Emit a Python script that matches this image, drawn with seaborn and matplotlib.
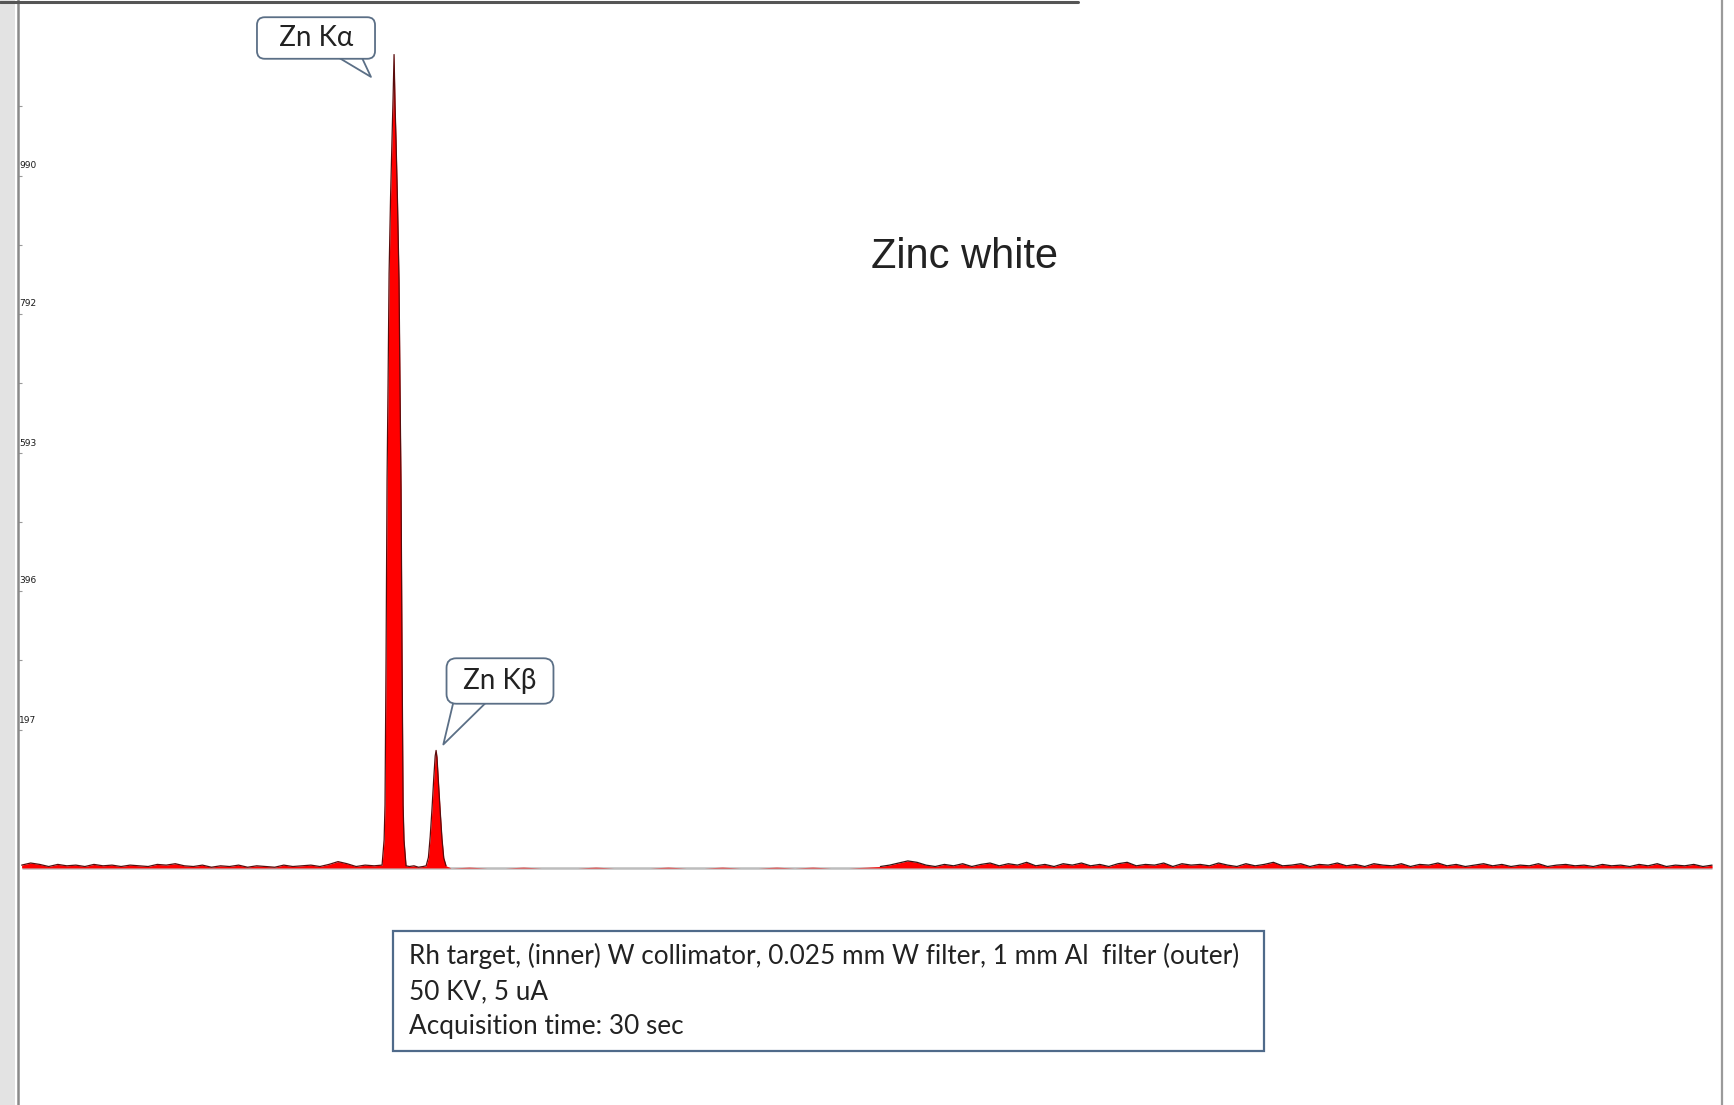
import numpy as np
import matplotlib
matplotlib.use("Agg")
import matplotlib.pyplot as plt
from matplotlib.lines import Line2D
from matplotlib.patches import Rectangle
import matplotlib.transforms as mtransforms
import seaborn as sns

# ---------------- data ----------------
# low-energy background (keV grid 0.4 .. 8.2)
bg_left_start, bg_left_stop = 0.4, 8.2
bg_left_counts = [4, 7, 5, 2, 5, 3, 4, 2, 5, 3, 4, 2, 4, 3, 2, 5, 4, 6, 3, 2,
                  4, 1, 3, 2, 4, 1, 3, 2, 1, 4, 2, 3, 4, 2, 5, 9, 6, 2, 4, 3]

# Zn K-alpha peak
ka_energy = [8.375, 8.42, 8.44, 8.463, 8.485, 8.507, 8.53, 8.563, 8.596, 8.618, 8.64,
             8.662, 8.684, 8.717, 8.75, 8.773, 8.795, 8.817, 8.84, 8.86, 8.905]
ka_counts = [4, 40, 90, 300, 554, 690, 850, 960, 1045, 1100, 1163,
             1090, 1040, 950, 840, 680, 540, 300, 90, 40, 3]

# valley between the peaks
valley_energy = [8.98, 9.08, 9.18, 9.28]
valley_counts = [2, 3, 1, 2]

# Zn K-beta peak
kb_energy = [9.35, 9.40, 9.44, 9.48, 9.52, 9.55, 9.57, 9.59, 9.62, 9.66, 9.70, 9.74, 9.79]
kb_counts = [3, 15, 45, 85, 130, 160, 168, 158, 125, 82, 42, 14, 3]

# quiet middle region (keV grid 9.9 .. 19.1)
bg_mid_start, bg_mid_stop = 9.9, 19.1
bg_mid_counts = [0, 1, 0, 0, 1, 0, 0, 0, 1, 0, 0, 0, 1, 0, 0, 1, 0, 0, 1, 0, 1, 0, 0, 1]

# high-energy background (keV grid 19.4 .. 37.8)
bg_right_start, bg_right_stop = 19.4, 37.8
bg_right_counts = [2, 4, 7, 10, 8, 4, 2, 5, 3, 6, 2, 5, 7, 3, 6, 4, 8, 3, 5, 2,
                   6, 4, 7, 3, 5, 2, 6, 8, 3, 5, 4, 7, 2, 6, 4, 5, 3, 7, 4, 2,
                   6, 3, 5, 8, 3, 4, 6, 2, 5, 4, 7, 3, 5, 2, 6, 4, 3, 6, 2, 5,
                   4, 7, 3, 5, 2, 4, 6, 3, 5, 2, 4, 3, 6, 2, 4, 5, 3, 4, 2, 5,
                   3, 4, 2, 5, 3, 6, 2, 4, 3, 5, 2, 4]

ytick_values = [197, 396, 593, 792, 990]
ytick_labels = ["197", "396", "593", "792", "990"]
yminor_values = [297, 495, 693, 891, 1089]

title_text = "Zinc white"
callout_ka = "Zn Kα"
callout_kb = "Zn Kβ"
info_lines = ["Rh target, (inner) W collimator, 0.025 mm W filter, 1 mm Al  filter (outer)",
              "50 KV, 5 uA",
              "Acquisition time: 30 sec"]

# ---------------- assemble spectrum ----------------
e_left = np.linspace(bg_left_start, bg_left_stop, len(bg_left_counts))
e_mid = np.linspace(bg_mid_start, bg_mid_stop, len(bg_mid_counts))
e_right = np.linspace(bg_right_start, bg_right_stop, len(bg_right_counts))

energy = np.concatenate([e_left, ka_energy, valley_energy, kb_energy, e_mid, e_right])
counts = np.concatenate([bg_left_counts, ka_counts, valley_counts, kb_counts,
                         bg_mid_counts, bg_right_counts]).astype(float)

# ---------------- figure ----------------
sns.set_theme(style="white")
W, H = 1734, 1105
fig = plt.figure(figsize=(W / 100, H / 100), dpi=100)
fig.patch.set_facecolor("white")

ax = fig.add_axes([18 / W, 0, (1722 - 18) / W, 1])
ax.set_facecolor("white")
ax.set_xlim(0.32, 38.02)
ax.set_ylim(-339, 1241)

# baseline (x axis line)
ax.hlines(0, energy.min(), energy.max(), color="#bdbdbd", lw=1.8, zorder=1)

# spectrum fill + outline
ax.fill_between(energy, 0, counts, color="#ff0000", lw=0, zorder=2)
seg_left = np.concatenate([e_left, ka_energy, valley_energy, kb_energy])
cnt_left = np.concatenate([bg_left_counts, ka_counts, valley_counts, kb_counts])
sns.lineplot(x=seg_left, y=cnt_left, ax=ax, color="#5a0c0c", lw=0.9,
             estimator=None, sort=False, zorder=3)
sns.lineplot(x=e_right, y=bg_right_counts, ax=ax, color="#3a1212", lw=0.9,
             estimator=None, sort=False, zorder=3)

# axes styling
for s in ["top", "bottom"]:
    ax.spines[s].set_visible(False)
ax.spines["left"].set_color("#8a8a8a")
ax.spines["left"].set_linewidth(1.8)
ax.spines["right"].set_color("#9a9a9a")
ax.spines["right"].set_linewidth(1.6)
ax.set_xticks([])
ax.set_xlabel("")
ax.set_ylabel("")
ax.set_yticks(ytick_values, ytick_labels)
ax.set_yticks(yminor_values, minor=True)
ax.tick_params(axis="y", which="both", direction="in", length=3, width=0.8,
               color="#9a9a9a", left=True, pad=-1)
ax.tick_params(axis="y", which="major", labelsize=6.5, labelcolor="#1a1a1a")
offset = mtransforms.ScaledTranslation(0.0, 8 / 72, fig.dpi_scale_trans)
for lab in ax.get_yticklabels():
    lab.set_horizontalalignment("left")
    lab.set_transform(lab.get_transform() + offset)

# screenshot frame decorations
fig.patches.append(Rectangle((0, 0), 15 / W, 1, transform=fig.transFigure,
                             facecolor="#e3e3e3", edgecolor="none", zorder=0))
fig.lines.append(Line2D([0, 1078 / W], [1 - 1.5 / H, 1 - 1.5 / H], transform=fig.transFigure,
                        color="#555555", lw=2.2))

# callouts
bubble_ec = "#5b6f86"
ka_idx = int(np.argmax(ka_counts))
kb_idx = int(np.argmax(kb_counts))
ax.annotate("  " + callout_ka + "  ",
            xy=(ka_energy[ka_idx] - 0.47, ka_counts[ka_idx] * 0.97),
            xytext=(316, H - 38), textcoords="figure pixels",
            ha="center", va="center", fontsize=20, color="#222222",
            family=["Lato", "Noto Sans", "DejaVu Sans"],
            bbox=dict(boxstyle="round,pad=0.28", fc="white", ec=bubble_ec, lw=1.3),
            arrowprops=dict(arrowstyle="wedge,tail_width=0.9", fc="white", ec=bubble_ec,
                            lw=1.3, patchA=None, relpos=(0.75, 0.25)),
            zorder=6)
ax.annotate(" " + callout_kb + " ",
            xy=(kb_energy[kb_idx] + 0.13, kb_counts[kb_idx] * 1.03),
            xytext=(500, H - 681), textcoords="figure pixels",
            ha="center", va="center", fontsize=20, color="#222222",
            family=["Lato", "Noto Sans", "DejaVu Sans"],
            bbox=dict(boxstyle="round,pad=0.35", fc="white", ec=bubble_ec, lw=1.3),
            arrowprops=dict(arrowstyle="wedge,tail_width=1.3", fc="white", ec=bubble_ec,
                            lw=1.3, patchA=None, relpos=(0.22, 0.25)),
            zorder=6)

# title
fig.text(964 / W, 1 - 268 / H, title_text, ha="center", va="baseline",
         fontsize=30, family="Liberation Sans", color="#222222")

# info box
fig.patches.append(Rectangle((393 / W, 1 - 1051 / H), (1264 - 393) / W, 120 / H,
                             transform=fig.transFigure, facecolor="white",
                             edgecolor="#4f6a8a", lw=1.6, zorder=1))
for i, line in enumerate(info_lines):
    fig.text(409 / W, 1 - (964 + 35 * i) / H, line, ha="left", va="baseline",
             fontsize=18.8, family=["Lato", "DejaVu Sans"], color="#222222", zorder=2)

fig.savefig("out.png", dpi=100, facecolor="white")
